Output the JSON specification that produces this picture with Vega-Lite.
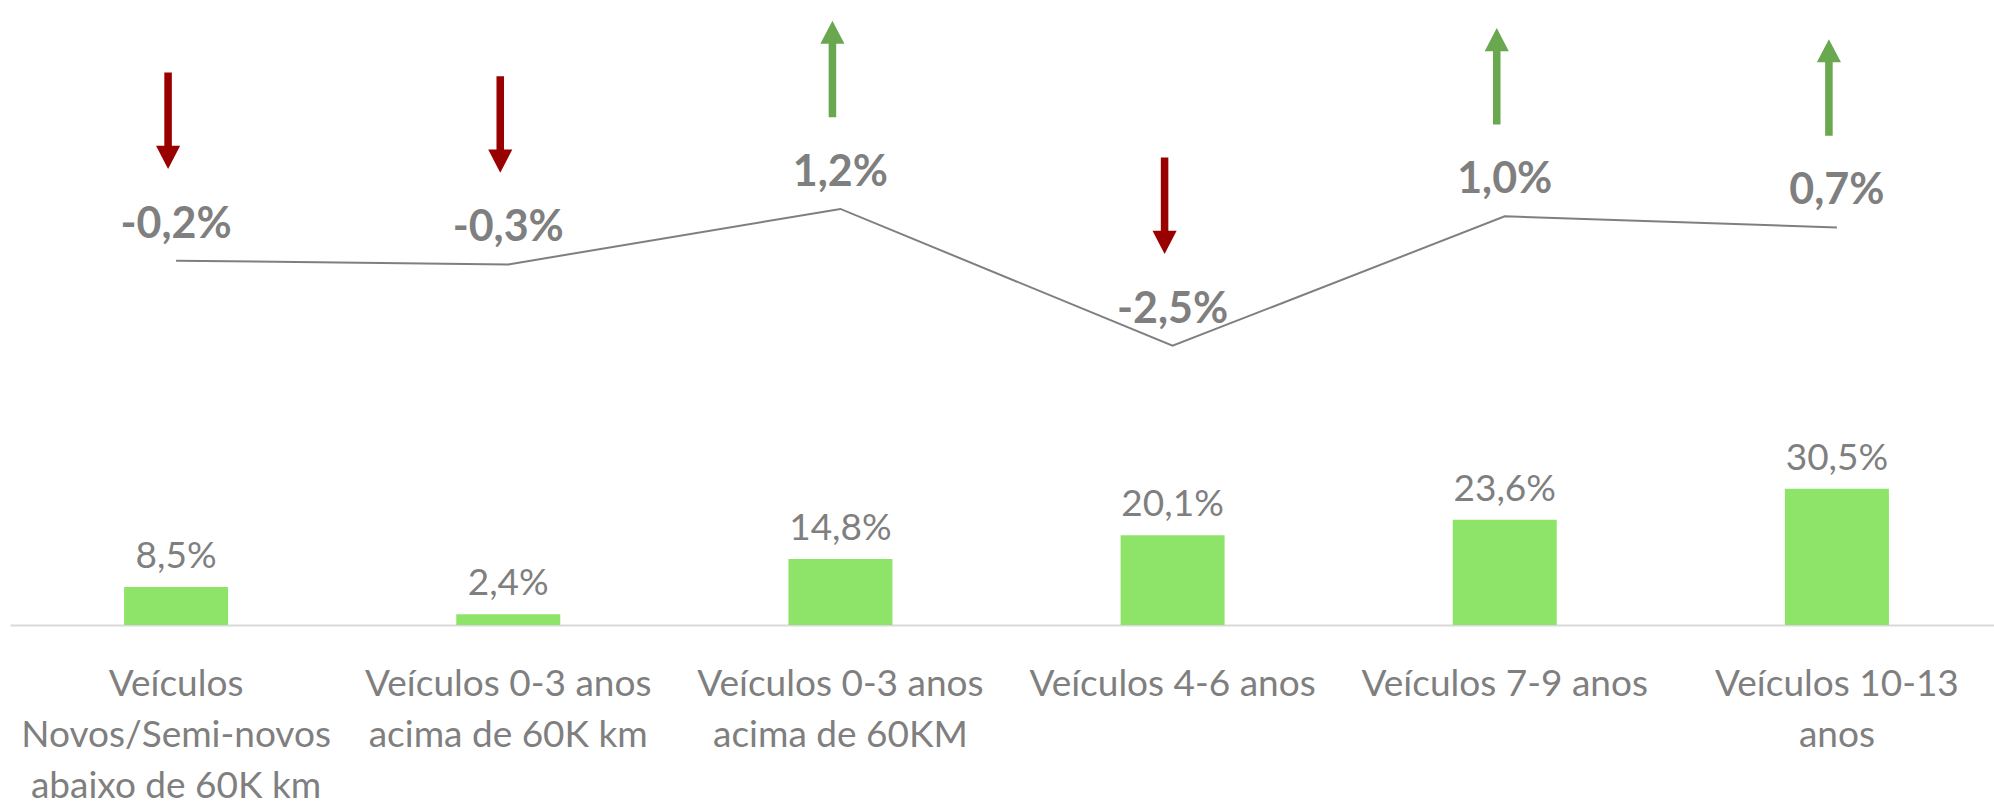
{
  "$schema": "https://vega.github.io/schema/vega-lite/v6.json",
  "width": 1984,
  "height": 625,
  "padding": {"left": 10, "top": 0, "right": 0, "bottom": 0},
  "autosize": {"type": "pad"},
  "background": "white",
  "config": {
    "view": {"stroke": null},
    "font": "Lato",
    "locale": {"number": {"decimal": ",", "thousands": ".", "grouping": [3], "currency": ["R$", ""], "minus": "-"}}
  },
  "data": {
    "values": [
      {"categoria": "Veículos\nNovos/Semi-novos\nabaixo de 60K km", "share": 0.085, "change": -0.002, "tendencia": "baixa"},
      {"categoria": "Veículos 0-3 anos\nacima de 60K km", "share": 0.024, "change": -0.003, "tendencia": "baixa"},
      {"categoria": "Veículos 0-3 anos\nacima de 60KM", "share": 0.148, "change": 0.012, "tendencia": "alta"},
      {"categoria": "Veículos 4-6 anos", "share": 0.201, "change": -0.025, "tendencia": "baixa"},
      {"categoria": "Veículos 7-9 anos", "share": 0.236, "change": 0.010, "tendencia": "alta"},
      {"categoria": "Veículos 10-13\nanos", "share": 0.305, "change": 0.007, "tendencia": "alta"}
    ]
  },
  "encoding": {
    "x": {
      "field": "categoria",
      "type": "nominal",
      "sort": null,
      "scale": {"range": [0, 1993], "paddingInner": 0.685, "paddingOuter": 0.3425},
      "axis": {
        "title": null,
        "labelAngle": 0,
        "ticks": false,
        "grid": false,
        "domainColor": "#D9D9D9",
        "domainWidth": 2,
        "labelColor": "#7F7F7F",
        "labelFont": "Lato",
        "labelFontSize": 37,
        "labelLineHeight": 51,
        "labelPadding": 41,
        "labelBaseline": "top",
        "labelLimit": 500,
        "labelOverlap": false,
        "labelBound": false,
        "labelExpr": "split(datum.label, '\\n')"
      }
    }
  },
  "layer": [
    {
      "mark": {"type": "bar", "color": "#8EE468", "width": 104},
      "encoding": {
        "y": {"field": "share", "type": "quantitative", "scale": {"domain": [0, 1.4]}, "axis": null}
      }
    },
    {
      "mark": {"type": "text", "baseline": "alphabetic", "dy": -19, "fontSize": 37, "color": "#7F7F7F", "font": "Lato"},
      "encoding": {
        "y": {"field": "share", "type": "quantitative", "scale": {"domain": [0, 1.4]}, "axis": null},
        "text": {"field": "share", "type": "quantitative", "format": ".1%"}
      }
    },
    {
      "mark": {"type": "line", "color": "#7F7F7F", "strokeWidth": 2},
      "encoding": {
        "y": {"field": "change", "type": "quantitative", "scale": {"domain": [-0.1005, 0.0685]}, "axis": null}
      }
    },
    {
      "mark": {"type": "text", "baseline": "alphabetic", "dy": -23, "fontSize": 43, "fontWeight": "bold", "color": "#7F7F7F", "font": "Lato"},
      "encoding": {
        "y": {"field": "change", "type": "quantitative", "scale": {"domain": [-0.1005, 0.0685]}, "axis": null},
        "text": {"field": "change", "type": "quantitative", "format": ".1%"}
      }
    },
    {
      "mark": {"type": "point", "filled": true, "opacity": 1, "size": 9312, "yOffset": -140, "xOffset": -8, "strokeWidth": 0},
      "encoding": {
        "y": {"field": "change", "type": "quantitative", "scale": {"domain": [-0.1005, 0.0685]}, "axis": null},
        "shape": {
          "field": "tendencia",
          "type": "nominal",
          "scale": {
            "domain": ["baixa", "alta"],
            "range": [
              "M-0.078,-1L0.078,-1L0.078,0.52L0.25,0.52L0,1L-0.25,0.52L-0.078,0.52Z",
              "M-0.078,1L0.078,1L0.078,-0.52L0.25,-0.52L0,-1L-0.25,-0.52L-0.078,-0.52Z"
            ]
          },
          "legend": null
        },
        "color": {
          "field": "tendencia",
          "type": "nominal",
          "scale": {"domain": ["baixa", "alta"], "range": ["#990000", "#6AA84F"]},
          "legend": null
        }
      }
    }
  ],
  "resolve": {"scale": {"y": "independent"}}
}
